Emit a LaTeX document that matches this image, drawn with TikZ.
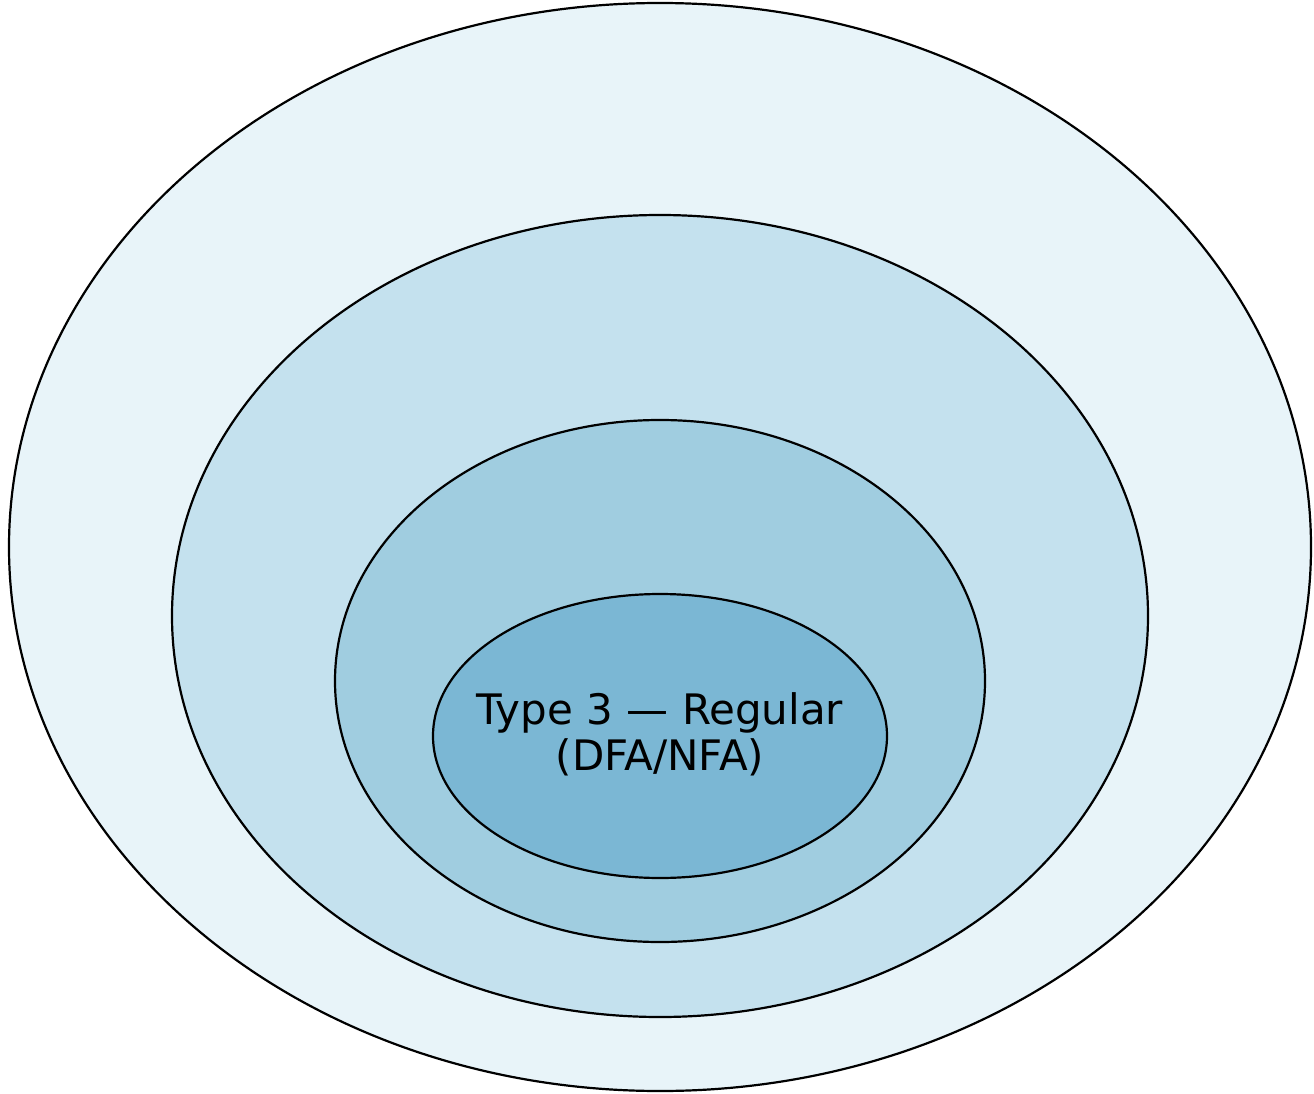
\documentclass[tikz,border=0pt]{standalone}
\usepackage{fontspec}
\setmainfont{DejaVu Sans}
\definecolor{c1}{HTML}{E8F4F9}
\definecolor{c2}{HTML}{C4E1EE}
\definecolor{c3}{HTML}{A0CDE0}
\definecolor{c4}{HTML}{7BB7D4}
\begin{document}
\begin{tikzpicture}[x=1pt,y=-1pt,
  ring/.style={draw=black,line width=2.2pt}]
\useasboundingbox (0,0) rectangle (1314,1094);
\fill[white] (0,0) rectangle (1314,1094);
\path[ring,fill=c1] (660,547) ellipse [x radius=651, y radius=544];
\path[ring,fill=c2] (660,616) ellipse [x radius=488, y radius=401];
\path[ring,fill=c3] (660,681) ellipse [x radius=325, y radius=261];
\path[ring,fill=c4] (660,736) ellipse [x radius=227, y radius=142];
\node[align=center,font=\fontsize{42}{46}\selectfont,inner sep=0pt] (t3) at (660,734) {Type 3 — Regular\\(DFA/NFA)};
\end{tikzpicture}
\end{document}
